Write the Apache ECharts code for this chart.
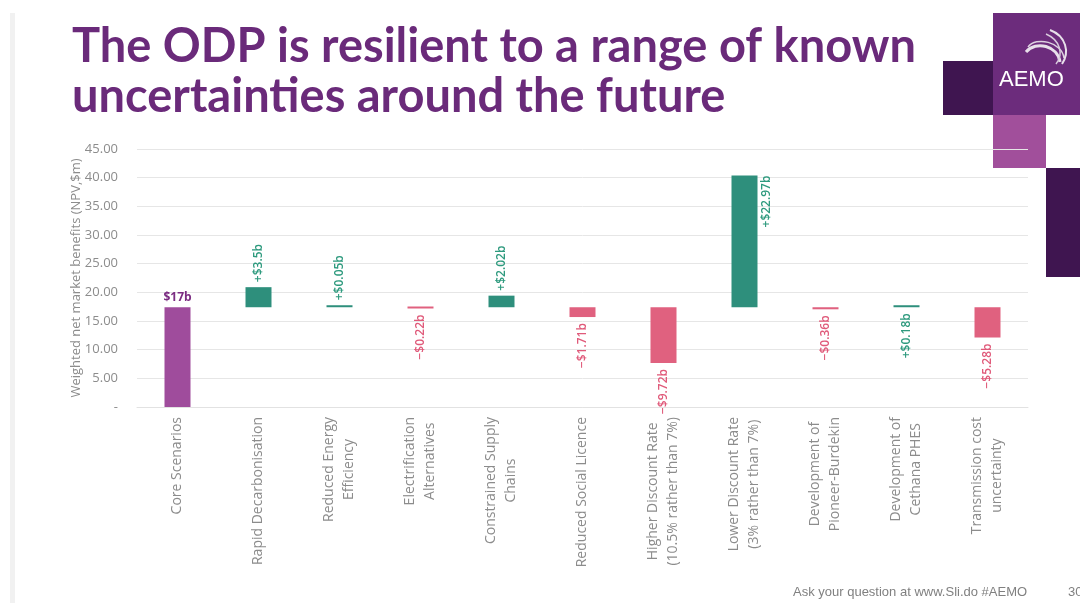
<!DOCTYPE html>
<html>
<head>
<meta charset="utf-8">
<script src="https://cdn.jsdelivr.net/npm/echarts@6/dist/echarts.min.js"></script>
<style>
html,body{margin:0;padding:0;background:#fff;}
#chart{width:1080px;height:603px;}
</style>
</head>
<body>
<div id="chart"></div>
<script>
// ---- data ----
const categories = [
  'Core Scenarios',
  'Rapid Decarbonisation',
  'Reduced Energy\nEfficiency',
  'Electrification\nAlternatives',
  'Constrained Supply\nChains',
  'Reduced Social Licence',
  'Higher Discount Rate\n(10.5% rather than 7%)',
  'Lower Discount Rate\n(3% rather than 7%)',
  'Development of\nPioneer-Burdekin',
  'Development of\nCethana PHES',
  'Transmission cost\nuncertainty'
];
const coreValue = 17.4;
const coreLabel = '$17b';
const deltas = [3.5, 0.05, -0.22, 2.02, -1.71, -9.72, 22.97, -0.36, 0.18, -5.28];
const yTicks = [0, 5, 10, 15, 20, 25, 30, 35, 40, 45];

// ---- styling ----
const PURPLE = '#9f4c9c', GREEN = '#2e8f7c', PINK = '#e0617f';
const GREEN_TXT = '#2e9a7e', PINK_TXT = '#e05a7a', PURPLE_TXT = '#7b2d82';
const AXIS_TXT = '#8c8c8c';
const BAR_W = 26;
// categories whose label is drawn under the bar even though the change is positive
const labelBelow = new Set(['Development of\nCethana PHES']);

function fmtDelta(d){ return (d >= 0 ? '+' : '\u2212') + '$' + String(Math.abs(d)) + 'b'; }

const helperData = [0].concat(deltas.map(d => Math.min(coreValue, coreValue + d)));
const visibleData = [{
  value: coreValue,
  itemStyle: {color: PURPLE},
  label: {show: true, position: 'top', distance: 4, rotate: 0, color: PURPLE_TXT,
          fontWeight: 'bold', fontSize: 12, formatter: coreLabel}
}].concat(deltas.map((d, i) => {
  const pos = d >= 0;
  const big = coreValue + d > 35;
  const txtColor = pos ? GREEN_TXT : PINK_TXT;
  let label;
  if (big) {
    label = {show: true, position: [BAR_W + 9, 0], rotate: 90, align: 'right', verticalAlign: 'middle'};
  } else if (pos && !labelBelow.has(categories[i + 1])) {
    label = {show: true, position: 'top', distance: 5, rotate: 90, align: 'left', verticalAlign: 'middle'};
  } else {
    label = {show: true, position: 'bottom', distance: 6, rotate: 90, align: 'right', verticalAlign: 'middle'};
  }
  label.color = txtColor;
  label.formatter = fmtDelta(d);
  label.fontSize = 12;
  label.fontWeight = 600;
  return {value: Math.abs(d), itemStyle: {color: pos ? GREEN : PINK}, label: label};
}));

const chart = echarts.init(document.getElementById('chart'), null, {renderer: 'canvas'});
const option = {
  backgroundColor: '#ffffff',
  textStyle: {fontFamily: 'Open Sans'},
  animation: false,
  grid: {left: 137, right: 52, top: 149, bottom: 196, containLabel: false},
  xAxis: {
    type: 'category',
    data: categories,
    axisLine: {show: true, lineStyle: {color: '#e2e2e2', width: 1}},
    axisTick: {show: false},
    axisLabel: {
      interval: 0, rotate: 90, margin: 10, color: AXIS_TXT, fontSize: 14, fontFamily: 'Open Sans',
      formatter: v => v.split('\n').map(s => '{c|' + s + '}').join('\n'),
      rich: {c: {align: 'center', color: AXIS_TXT, fontSize: 14, fontFamily: 'Open Sans', lineHeight: 20}}
    }
  },
  yAxis: {
    type: 'value',
    min: yTicks[0], max: yTicks[yTicks.length - 1], interval: yTicks[1] - yTicks[0],
    name: 'Weighted net market benefits (NPV,$m)',
    nameLocation: 'middle', nameGap: 54, nameRotate: 90, nameMoveOverlap: false,
    nameTextStyle: {color: AXIS_TXT, fontSize: 13, fontFamily: 'Open Sans'},
    axisLine: {show: false}, axisTick: {show: false},
    axisLabel: {color: AXIS_TXT, fontSize: 13, margin: 19, fontFamily: 'Open Sans',
                formatter: v => v === 0 ? '-' : v.toFixed(2)},
    splitLine: {show: true, lineStyle: {color: '#e6e6e6', width: 1}}
  },
  series: [
    {type: 'bar', stack: 'w', data: helperData, barWidth: BAR_W,
     itemStyle: {color: 'transparent'}, emphasis: {disabled: true}, silent: true},
    {type: 'bar', stack: 'w', data: visibleData, barWidth: BAR_W, barMinHeight: 2}
  ],
  graphic: [
    {type: 'rect', shape: {x: 10, y: 13, width: 5, height: 590}, style: {fill: '#f1f1f1'}, z: -5},
    {type: 'rect', shape: {x: 943, y: 61, width: 50, height: 54}, style: {fill: '#3f1550'}, z: -5},
    {type: 'rect', shape: {x: 993, y: 13, width: 87, height: 102}, style: {fill: '#6c2c7c'}, z: -5},
    {type: 'rect', shape: {x: 993, y: 115, width: 53, height: 53}, style: {fill: '#a14f9b'}, z: -5},
    {type: 'rect', shape: {x: 1046, y: 168, width: 34, height: 109}, style: {fill: '#3f1550'}, z: -5},
    {type: 'bezierCurve', shape: {x1: 1026, y1: 52, x2: 1060, y2: 62, cpx1: 1036, cpy1: 40, cpx2: 1058, cpy2: 46},
     style: {stroke: '#e8e0ea', lineWidth: 3, fill: null}, z: -4},
    {type: 'bezierCurve', shape: {x1: 1028, y1: 47, x2: 1064, y2: 58, cpx1: 1036, cpy1: 36, cpx2: 1062, cpy2: 42},
     style: {stroke: '#ddd2e0', lineWidth: 1.5, fill: null}, z: -4},
    {type: 'bezierCurve', shape: {x1: 1050, y1: 30, x2: 1062, y2: 64, cpx1: 1066, cpy1: 36, cpx2: 1070, cpy2: 52},
     style: {stroke: '#e8e0ea', lineWidth: 2, fill: null}, z: -4},
    {type: 'bezierCurve', shape: {x1: 1046, y1: 34, x2: 1056, y2: 64, cpx1: 1060, cpy1: 40, cpx2: 1064, cpy2: 54},
     style: {stroke: '#d8cadc', lineWidth: 1.5, fill: null}, z: -4},
    {type: 'text', left: 999, top: 69, style: {text: 'AEMO', fill: '#ffffff', font: '22px "Liberation Sans"'}, z: -4},
    {type: 'text', left: 72, top: 22,
     style: {text: 'The ODP is resilient to a range of known\nuncertainties around the future',
             fill: '#6a2a7a', font: 'bold 47px Lato', lineHeight: 50}},
    {type: 'text', left: 793, top: 586,
     style: {text: 'Ask your question at www.Sli.do #AEMO', fill: '#808080', font: '13px "Liberation Sans"'}},
    {type: 'text', left: 1068, top: 586,
     style: {text: '30', fill: '#808080', font: '13px "Liberation Sans"'}}
  ]
};
chart.setOption(option);
</script>
</body>
</html>
